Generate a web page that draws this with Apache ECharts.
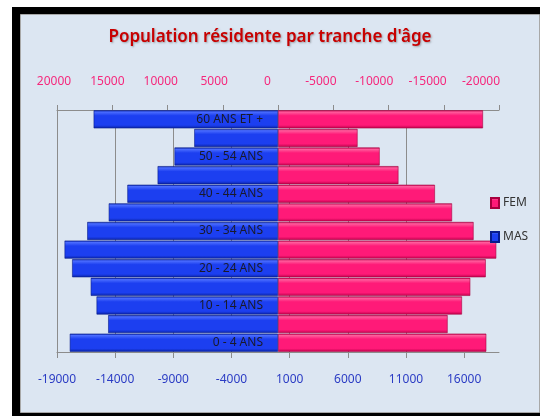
<!DOCTYPE html>
<html>
<head>
<meta charset="utf-8">
<style>
  html, body { margin: 0; padding: 0; background: #ffffff; }
  #chart { width: 540px; height: 416px; }
</style>
<script src="https://cdn.jsdelivr.net/npm/echarts@6/dist/echarts.min.js"></script>
</head>
<body>
<div id="chart"></div>
<script>
// Age groups, youngest first (bottom of the pyramid)
const categories = [
  '0 - 4 ANS', '5 - 9 ANS', '10 - 14 ANS', '15 - 19 ANS', '20 - 24 ANS',
  '25 - 29 ANS', '30 - 34 ANS', '35 - 39 ANS', '40 - 44 ANS', '45 - 49 ANS',
  '50 - 54 ANS', '55 - 59 ANS', '60 ANS ET +'
];
// Men, plotted against the lower axis (negative = left of centre)
const masValues = [-17900, -14600, -15600, -16100, -17700, -18350, -16400, -14550, -12950, -10350, -8900, -7200, -15850];
// Women, plotted against the reversed upper axis (negative = right of centre)
const femValues = [-18850, -15350, -16650, -17400, -18800, -19750, -17700, -15750, -14200, -10900, -9200, -7200, -18550];

// Tick labels
const bottomTicks = [-19000, -14000, -9000, -4000, 1000, 6000, 11000, 16000];
const topTicks = [20000, 15000, 10000, 5000, 0, -5000, -10000, -15000, -20000];

const chart = echarts.init(document.getElementById('chart'));

const barGradient = (light, mid, dark) => ({
  type: 'linear', x: 0, y: 0, x2: 0, y2: 1,
  colorStops: [
    { offset: 0, color: dark },
    { offset: 0.1, color: light },
    { offset: 0.3, color: mid },
    { offset: 0.82, color: mid },
    { offset: 1, color: dark }
  ]
});

const axisGray = '#8c8c8c';
const font = 'Noto Sans';
const plain = (v) => String(v);

chart.setOption({
  animation: false,
  graphic: [
    { type: 'rect', z: -10, silent: true, shape: { x: 12, y: 7, width: 528, height: 409 }, style: { fill: '#000000' } },
    { type: 'rect', z: -9, silent: true, shape: { x: 20.5, y: 14.5, width: 519, height: 398 }, style: { fill: '#dce6f2', stroke: '#a8a8a8', lineWidth: 1 } }
  ],
  title: {
    text: "Population résidente par tranche d'âge",
    left: 'center',
    top: 24,
    textStyle: {
      color: '#c80000', fontFamily: font, fontSize: 17, fontWeight: 600,
      textShadowColor: 'rgba(0,0,0,0.3)', textShadowBlur: 2, textShadowOffsetX: 1, textShadowOffsetY: 1
    }
  },
  legend: {
    orient: 'vertical',
    left: 485,
    top: 192,
    itemWidth: 8,
    itemHeight: 10,
    itemGap: 22,
    textStyle: { fontFamily: font, fontSize: 12, color: '#333333', padding: [0, 0, 0, -1] },
    data: [
      { name: 'FEM', icon: 'rect' },
      { name: 'MAS', icon: 'rect' }
    ]
  },
  grid: [
    // plot area
    { left: 57, right: 41, top: 110, bottom: 64, containLabel: false, outerBoundsMode: 'none' },
    // caption row of the upper axis
    { left: 54, right: 59, top: 110, bottom: 64, containLabel: false, outerBoundsMode: 'none' }
  ],
  xAxis: [
    {
      // lower axis: men
      type: 'value',
      gridIndex: 0,
      position: 'bottom',
      min: -19000, max: 19000, interval: 5000,
      axisLine: { show: true, onZero: false, lineStyle: { color: axisGray } },
      axisTick: { show: true, length: 6, customValues: bottomTicks, lineStyle: { color: axisGray } },
      axisLabel: {
        customValues: bottomTicks, margin: 22, formatter: plain,
        color: '#2b3cc4', fontFamily: font, fontSize: 12
      },
      splitLine: { show: true, showMaxLine: false, lineStyle: { color: axisGray, width: 1 } }
    },
    {
      // upper axis: women, reversed
      type: 'value',
      gridIndex: 0,
      position: 'top',
      inverse: true,
      min: -20000, max: 20000, interval: 5000,
      axisLine: { show: true, onZero: false, lineStyle: { color: axisGray } },
      axisTick: { show: true, length: 5, lineStyle: { color: axisGray } },
      axisLabel: { show: false },
      splitLine: { show: false }
    },
    {
      // labels of the upper axis
      type: 'value',
      gridIndex: 1,
      position: 'top',
      inverse: true,
      min: -20000, max: 20000, interval: 5000,
      axisLine: { show: false, onZero: false },
      axisTick: { show: false },
      axisLabel: {
        customValues: topTicks, margin: 22, formatter: plain,
        color: '#f5287c', fontFamily: font, fontSize: 12
      },
      splitLine: { show: false }
    }
  ],
  yAxis: [
    {
      type: 'category',
      gridIndex: 0,
      data: categories,
      offset: -221,
      axisLine: { show: false, onZero: false },
      axisTick: { show: false },
      axisLabel: { interval: 1, margin: 15, color: '#1a1a2a', fontFamily: font, fontSize: 12 },
      splitLine: { show: false },
      z: 10
    },
    {
      type: 'value',
      gridIndex: 1,
      show: false
    }
  ],
  series: [
    {
      name: 'FEM',
      type: 'bar',
      xAxisIndex: 1,
      yAxisIndex: 0,
      data: femValues,
      barCategoryGap: '3%',
      barGap: '-100%',
      itemStyle: {
        color: barGradient('#ff5c9c', '#ff1a78', '#c0004c'),
        borderColor: '#a8003f', borderWidth: 0.6
      }
    },
    {
      name: 'MAS',
      type: 'bar',
      xAxisIndex: 0,
      yAxisIndex: 0,
      data: masValues,
      barCategoryGap: '3%',
      barGap: '-100%',
      itemStyle: {
        color: barGradient('#4a6cff', '#1c3ff0', '#0a24a8'),
        borderColor: '#081c8c', borderWidth: 0.6
      }
    }
  ]
});
</script>
</body>
</html>
